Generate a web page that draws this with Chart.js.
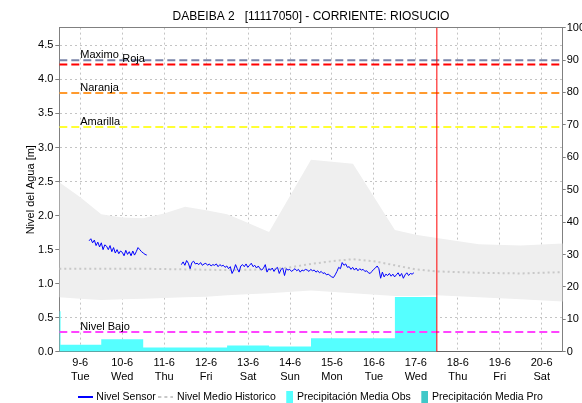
<!DOCTYPE html>
<html lang="es">
<head>
<meta charset="UTF-8">
<title>DABEIBA 2 - Nivel</title>
<script src="https://cdn.jsdelivr.net/npm/chart.js"></script>
<style>
  html,body{margin:0;padding:0;background:#fff}
  #wrap{width:582px;height:403px}
</style>
</head>
<body>
<div id="wrap"><canvas id="chart" width="582" height="403"></canvas></div>
<script>
// ---- data (x in days from 9-6 00:00) ----
const dayLabels = ['9-6','10-6','11-6','12-6','13-6','14-6','15-6','16-6','17-6','18-6','19-6','20-6'];
const dayNames  = ['Tue','Wed','Thu','Fri','Sat','Sun','Mon','Tue','Wed','Thu','Fri','Sat'];
const noonTicks = [0.5,1.5,2.5,3.5,4.5,5.5,6.5,7.5,8.5,9.5,10.5,11.5];

// hourly sensor readings, two runs
const sensorStep = 1/24;
const sensor1Start = 0.71;
const sensor1 = [1.63,1.66,1.60,1.64,1.56,1.61,1.54,1.60,1.50,1.57,1.55,1.50,1.56,1.47,1.53,1.45,1.50,
  1.44,1.48,1.46,1.41,1.49,1.43,1.47,1.41,1.48,1.42,1.47,1.53,1.50,1.47,1.45,1.43,1.42];
const sensor2Start = 2.91;
const sensor2 = [
  1.28,1.32,1.27,1.34,1.30,1.22,1.31,1.33,1.29,1.30,1.28,1.31,1.27,1.29,1.30,1.27,1.29,1.26,1.28,1.27,1.29,1.25,1.28,1.26,
  1.27,1.24,1.26,1.22,1.25,1.15,1.20,1.28,1.22,1.17,1.26,1.28,1.25,1.29,1.24,1.27,1.30,1.25,1.27,1.23,1.26,1.22,1.20,1.23,
  1.28,1.17,1.22,1.20,1.23,1.18,1.22,1.24,1.15,1.21,1.23,1.12,1.22,1.20,1.21,1.18,1.20,1.22,1.19,1.21,1.17,1.20,1.19,1.21,
  1.20,1.18,1.21,1.19,1.20,1.17,1.19,1.16,1.18,1.15,1.16,1.13,1.14,1.12,1.10,1.09,1.13,1.18,1.24,1.22,1.31,1.27,1.29,1.24,
  1.25,1.21,1.24,1.20,1.23,1.19,1.22,1.20,1.21,1.18,1.19,1.16,1.15,1.18,1.21,1.23,1.26,1.22,1.08,1.17,1.10,1.14,1.12,1.15,
  1.11,1.14,1.10,1.13,1.16,1.11,1.15,1.08,1.13,1.16,1.12,1.15,1.14,1.16];

// historical mean and range
const meanDays = [0,1,2,3,4,5,5.5,6,6.5,7,7.5,8,8.5,9,10,11,12];
const meanVals = [1.22,1.22,1.22,1.21,1.20,1.21,1.24,1.29,1.33,1.36,1.33,1.27,1.21,1.18,1.16,1.15,1.17];
const bandDays  = [0,0.5,1,1.5,2,2.5,3,3.5,4,4.35,5,6,7,8,8.5,9,10,11,12];
const bandUpper = [2.49,2.27,2.02,1.97,1.96,2.03,2.13,2.08,2.02,1.93,1.76,2.82,2.76,1.79,1.72,1.67,1.58,1.56,1.59];
const bandLower = [0.80,0.78,0.76,0.77,0.78,0.79,0.80,0.81,0.83,0.84,0.86,0.90,0.86,0.82,0.82,0.83,0.80,0.77,0.74];

// observed precipitation (right axis), value holds until next time
const rainDays = [0,0.03,1,2,4,5,6,8,9];
const rainObs  = [12.5,2.2,3.9,1.3,1.95,1.65,4.2,16.9,16.9];

// alert levels
const levelNames  = ['Maximo','Roja','Naranja','Amarilla','Nivel Bajo'];
const levelValues = [4.28,4.22,3.80,3.30,0.29];
const levelColors = ['#7a84a8','#ff0000','#ff9a2e','#ffff33','#ff44ff'];
const levelLabelDay = [0.5,1.5,0.5,0.5,0.5];
const nowDay = 9;

const yMax = 4.76;
const legendNames = ['Nivel Sensor','Nivel Medio Historico','Precipitación Media Obs','Precipitación Media Pro'];

const pts = (xs, ys) => xs.map((x,i) => ({x, y: ys[i]}));
const run = (start, vals) => vals.map((v,i) => ({x: start + i*sensorStep, y: v}));

function icon(w, h, draw){
  const c = document.createElement('canvas');
  c.width = w; c.height = h;
  draw(c.getContext('2d'));
  return c;
}
const legendIcons = {
  'Nivel Sensor': icon(15,2,g => { g.fillStyle='#0000ff'; g.fillRect(0,0,15,2); }),
  'Nivel Medio Historico': icon(15,2,g => { g.fillStyle='#c8c8c8'; [0,6,12].forEach(x=>g.fillRect(x,0,3,2)); }),
  'Precipitación Media Obs': icon(15,12,g => { g.fillStyle='#55ffff'; g.fillRect(8,0,7,12); }),
  'Precipitación Media Pro': icon(15,12,g => { g.fillStyle='#40c8c8'; g.fillRect(8,0,7,12); })
};

Chart.defaults.font.family = '"Liberation Sans", Arial, sans-serif';
Chart.defaults.font.size = 11;
Chart.defaults.color = '#000';

const levelSets = levelNames.map((n,i) => ({
  label: n, data: [{x:0,y:levelValues[i]},{x:12,y:levelValues[i]}],
  borderColor: levelColors[i], borderWidth: 2, borderDash: [8,4],
  pointRadius: 0, order: 1, yAxisID: 'y'
}));

const levelLabels = {
  id: 'levelLabels',
  afterDatasetsDraw(chart){
    const {ctx, scales:{x, y}} = chart;
    ctx.save();
    ctx.font = '11px "Liberation Sans", Arial, sans-serif';
    ctx.fillStyle = '#000';
    ctx.textBaseline = 'alphabetic';
    levelNames.forEach((n,i) => {
      ctx.fillText(n, x.getPixelForValue(levelLabelDay[i]), y.getPixelForValue(levelValues[i]) - 2);
    });
    ctx.restore();
  }
};

new Chart(document.getElementById('chart'), {
  type: 'line',
  data: {
    datasets: [
      { label:'Nivel Sensor', data: run(sensor1Start, sensor1).concat([{x:2.5,y:null}], run(sensor2Start, sensor2)),
        borderColor:'#0000ff', borderWidth:1, pointRadius:0, spanGaps:false, order:2, yAxisID:'y' },
      { label:'Nivel Medio Historico', data: pts(meanDays, meanVals),
        borderColor:'#c8c8c8', borderWidth:2, borderDash:[2,3], pointRadius:0, order:3, yAxisID:'y' },
      { label:'Precipitación Media Obs', data: pts(rainDays, rainObs), stepped:true, fill:'origin',
        backgroundColor:'#55ffff', borderColor:'rgba(0,0,0,0)', borderWidth:0, pointRadius:0, order:4, yAxisID:'y2' },
      { label:'Precipitación Media Pro', data: [], backgroundColor:'#40c8c8', borderColor:'#40c8c8',
        pointRadius:0, order:5, yAxisID:'y2' },
      { label:'min', data: pts(bandDays, bandLower), borderColor:'rgba(0,0,0,0)', borderWidth:0,
        pointRadius:0, fill:false, order:10, yAxisID:'y' },
      { label:'max', data: pts(bandDays, bandUpper), borderColor:'rgba(0,0,0,0)', borderWidth:0,
        backgroundColor:'#efefef', pointRadius:0, fill:'-1', order:10, yAxisID:'y' },
      ...levelSets,
      { label:'now', data: [{x:nowDay,y:0},{x:nowDay,y:yMax}], borderColor:'#ff0000', borderWidth:1,
        pointRadius:0, order:0, yAxisID:'y' }
    ]
  },
  options: {
    responsive:false, animation:false, events:[],
    layout:{padding:{bottom:-9.5}},
    scales: {
      x: {
        type:'linear', min:0, max:12,
        afterBuildTicks: s => { s.ticks = noonTicks.map(v => ({value:v})); },
        afterFit: s => { s.height = 36.2; },
        ticks:{ callback:(v,i) => [dayLabels[i], dayNames[i]], maxRotation:0, autoSkip:false, padding:5 },
        grid:{ color:'#c4c4c4', drawTicks:false },
        border:{ color:'#666666', dash:[2,3] }
      },
      xTop: {
        type:'linear', position:'top', min:0, max:12,
        afterFit: s => { s.height = 0; },
        ticks:{ display:false }, grid:{ drawOnChartArea:false, drawTicks:false },
        border:{ color:'#808080' }
      },
      y: {
        position:'left', min:0, max:yMax,
        afterFit: s => { s.width = 59.3; },
        ticks:{ stepSize:0.5, includeBounds:false, callback: v => v.toFixed(1), padding:2 },
        grid:{ color:'#c4c4c4', tickColor:'#808080', tickLength:4 },
        border:{ color:'#808080', dash:[2,3] },
        title:{ display:true, text:'Nivel del Agua [m]', padding:{top:24, bottom:0} }
      },
      y2: {
        position:'right', min:0, max:100,
        afterFit: s => { s.width = 19.3; },
        ticks:{ stepSize:10, padding:1 },
        grid:{ drawOnChartArea:false, tickColor:'#808080', tickLength:3 },
        border:{ color:'#808080' }
      }
    },
    plugins: {
      title:{ display:true, text:'DABEIBA 2   [11117050] - CORRIENTE: RIOSUCIO', fullSize:false,
        font:{size:12, weight:'normal'}, color:'#000', padding:{top:9, bottom:4.2} },
      legend:{ position:'bottom', fullSize:false,
        labels:{ usePointStyle:true, pointStyleWidth:12, padding:4, font:{size:10.5},
          filter: item => legendNames.includes(item.text),
          generateLabels: chart => {
            const items = Chart.defaults.plugins.legend.labels.generateLabels(chart);
            items.forEach(it => { if (legendIcons[it.text]) it.pointStyle = legendIcons[it.text]; });
            return items;
          } } },
      tooltip:{ enabled:false }
    }
  },
  plugins:[levelLabels]
});
</script>
</body>
</html>
